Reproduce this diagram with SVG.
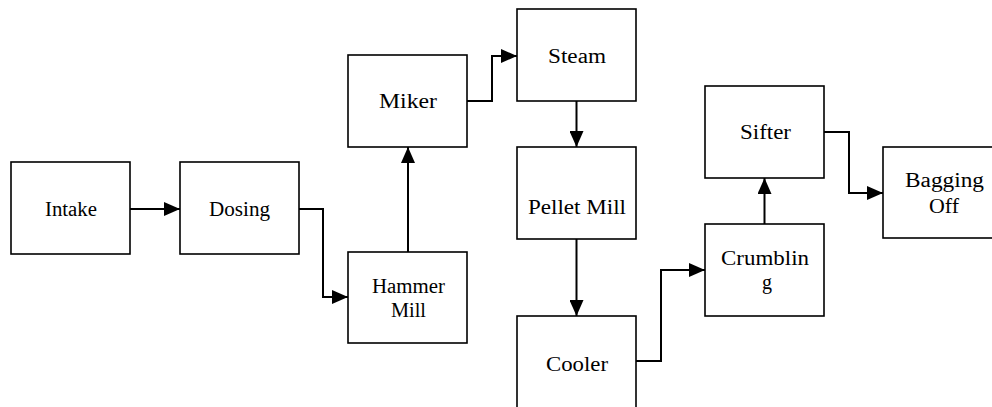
<svg xmlns="http://www.w3.org/2000/svg" width="992" height="407" viewBox="0 0 992 407">
<style>
.box{fill:#fff;stroke:#000;stroke-width:1.6}
.lbl{font-family:"Liberation Serif","Times New Roman",serif;font-size:20px;fill:#000;text-anchor:middle}
.con{fill:none;stroke:#000;stroke-width:2}
</style>
<defs>
<marker id="ah" markerUnits="userSpaceOnUse" markerWidth="16" markerHeight="14" refX="16" refY="7" orient="auto">
<path d="M0,0 L16,7 L0,14 z" fill="#000"/>
</marker>
</defs>
<rect width="992" height="407" fill="#fff"/>
<g id="connectors">
<path class="con" d="M130,209 H180" marker-end="url(#ah)"/>
<path class="con" d="M299,209 H323 V297 H348" marker-end="url(#ah)"/>
<path class="con" d="M408,252 V147" marker-end="url(#ah)"/>
<path class="con" d="M467,101 H492 V56 H517" marker-end="url(#ah)"/>
<path class="con" d="M576.5,101 V147" marker-end="url(#ah)"/>
<path class="con" d="M576.5,239 V316" marker-end="url(#ah)"/>
<path class="con" d="M636,361 H661 V270 H705" marker-end="url(#ah)"/>
<path class="con" d="M764.5,224 V178" marker-end="url(#ah)"/>
<path class="con" d="M824,132 H849 V193 H883" marker-end="url(#ah)"/>
</g>
<g id="intake"><rect class="box" x="11" y="162" width="119" height="92"/><text class="lbl" x="71" y="215.5" textLength="52" lengthAdjust="spacingAndGlyphs">Intake</text></g>
<g id="dosing"><rect class="box" x="180" y="162" width="119" height="92"/><text class="lbl" x="239.5" y="215.5" textLength="61" lengthAdjust="spacingAndGlyphs">Dosing</text></g>
<g id="hammer-mill"><rect class="box" x="348" y="252" width="119" height="91"/><text class="lbl" x="408.5" y="293" textLength="73" lengthAdjust="spacingAndGlyphs">Hammer</text><text class="lbl" x="408.5" y="316.5" textLength="35" lengthAdjust="spacingAndGlyphs">Mill</text></g>
<g id="miker"><rect class="box" x="348" y="55" width="119" height="92"/><text class="lbl" x="408" y="108" textLength="58" lengthAdjust="spacingAndGlyphs">Miker</text></g>
<g id="steam"><rect class="box" x="517" y="9" width="119" height="92"/><text class="lbl" x="577" y="62.5" textLength="58" lengthAdjust="spacingAndGlyphs">Steam</text></g>
<g id="pellet-mill"><rect class="box" x="517" y="147" width="119" height="92"/><text class="lbl" x="577" y="214" textLength="98" lengthAdjust="spacingAndGlyphs">Pellet Mill</text></g>
<g id="cooler"><rect class="box" x="517" y="316" width="119" height="100"/><text class="lbl" x="577" y="370.5" textLength="62" lengthAdjust="spacingAndGlyphs">Cooler</text></g>
<g id="crumbling"><rect class="box" x="705" y="224" width="119" height="92"/><text class="lbl" x="765" y="265" textLength="88" lengthAdjust="spacingAndGlyphs">Crumblin</text><text class="lbl" x="767" y="289">g</text></g>
<g id="sifter"><rect class="box" x="705" y="86" width="119" height="92"/><text class="lbl" x="765.5" y="139" textLength="51" lengthAdjust="spacingAndGlyphs">Sifter</text></g>
<g id="bagging-off"><rect class="box" x="883" y="147" width="119" height="91"/><text class="lbl" x="944.5" y="187" textLength="79" lengthAdjust="spacingAndGlyphs">Bagging</text><text class="lbl" x="944" y="212.5" textLength="30" lengthAdjust="spacingAndGlyphs">Off</text></g>
</svg>
